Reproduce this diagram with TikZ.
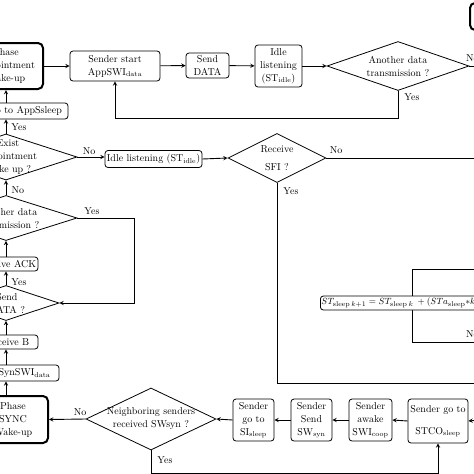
\documentclass[tikz,border=0pt]{standalone}
\usepackage{amsmath}
\usetikzlibrary{shapes.geometric}
\tikzset{
  box/.style={draw,rounded corners=3pt,align=center,inner sep=1pt,line width=0.8pt},
  bigbox/.style={box,line width=2pt,rounded corners=5pt},
  dec/.style={draw,diamond,inner sep=0pt,line width=0.8pt},
  dectext/.style={align=center,inner sep=0pt},
  lbl/.style={inner sep=1pt},
  wire/.style={line width=0.9pt},
  arr/.style={wire,-stealth}
}

\begin{document}
\begin{tikzpicture}[x=1pt,y=-1pt,font=\fontsize{10}{13}\selectfont]
  \useasboundingbox (0,0) rectangle (474,474);
  \clip (0,0) rectangle (474,474);
  % top row
  \node[bigbox,minimum width=30,minimum height=27] (legend) at (485,16.5) {};
  \node[bigbox,minimum width=74,minimum height=46] (phaseA) at (6,66) {Phase\\Appointment\\Wake-up};
  \node[box,minimum width=90,minimum height=30] (startA) at (115,66) {Sender start\\AppSWI$_{\mathrm{data}}$};
  \node[box,minimum width=43,minimum height=25] (sendD) at (207.5,65.5) {Send\\DATA};
  \node[box,minimum width=47,minimum height=42] (idleA) at (278.5,66) {Idle\\listening\\(ST$_{\mathrm{idle}}$)};
  \node[dec,minimum width=142,minimum height=49,
    label={[dectext]center:Another data\\transmission ?}] (anotherA) at (398,66) {};
  \draw[arr] (phaseA.east) -- (startA.west);
  \draw[arr] (startA) -- (sendD);
  \draw[arr] (sendD) -- (idleA);
  \draw[arr] (idleA) -- (anotherA.west);
  \draw[wire] (anotherA.east) -- (480,66);
  \node[lbl,anchor=west] at (465,58) {No};
  \draw[arr] (anotherA.south) -- (398,118) -| (startA.south);
  \node[lbl] at (412,97) {Yes};
  % left column
  \node[box,minimum width=86,minimum height=16] (sleepA) at (25,111) {Go to AppSsleep};
  \node[dec,minimum width=142,minimum height=46,
    label={[dectext,xshift=2pt]center:Exist\\Appointment\\Wake up ?}] (exist) at (6,157) {};
  \node[box,minimum width=97,minimum height=17] (idleB) at (153.5,159) {Idle listening (ST$_{\mathrm{idle}}$)};
  \node[dec,minimum width=98,minimum height=49,
    label={[dectext]center:Receive\\[5pt]SFI ?}] (sfi) at (277,158) {};
  \node[dec,minimum width=142,minimum height=45,
    label={[dectext,xshift=2pt]center:Another data\\transmission ?}] (anotherB) at (6,218) {};
  \node[box,minimum width=62,minimum height=14] (ack) at (7,264) {Receive ACK};
  \node[dec,minimum width=106,minimum height=35,
    label={[dectext,xshift=1pt]center:Send\\DATA ?}] (sendq) at (6,303) {};
  \node[box,minimum width=61,minimum height=14] (recB) at (7.5,342) {Receive B};
  \node[box,minimum width=69,minimum height=16] (synswi) at (24.5,373) {SynSWI$_{\mathrm{data}}$};
  \node[bigbox,minimum width=70,minimum height=47] (phaseS) at (13,419.5) {Phase\\SYNC\\Wake-up};
  \draw[arr] (exist.north) -- (exist.north |- sleepA.south);
  \node[lbl] at (19,127) {Yes};
  \draw[arr] (exist.north |- sleepA.north) -- (exist.north |- phaseA.south);
  \draw[arr] (exist.east) -- (exist.east -| idleB.west);
  \node[lbl] at (89,151) {No};
  \draw[arr] (idleB.east) -- (sfi.west);
  \draw[wire] (sfi.east) -- (480,158);
  \node[lbl] at (336,150) {No};
  \draw[wire] (sfi.south) -- (277,383) -- (480,383);
  \node[lbl] at (291,191) {Yes};
  \draw[arr] (anotherB.north) -- (exist.south);
  \node[lbl] at (18,190) {No};
  \draw[arr] (anotherB.east) -- (134,218) |- (sendq.east);
  \node[lbl] at (92,211) {Yes};
  \draw[arr] (sendq.north |- ack.north) -- (anotherB.south);
  \draw[arr] (sendq.north) -- (sendq.north |- ack.south);
  \node[lbl] at (19,282) {Yes};
  \draw[arr] (sendq.south |- recB.north) -- (sendq.south);
  \draw[arr] (sendq.south |- synswi.north) -- (sendq.south |- recB.south);
  \draw[arr] (sendq.south |- phaseS.north) -- (sendq.south |- synswi.south);
  % sleep update
  \draw[wire] (480,269) -| (412,342) -- (480,342);
  \node[lbl,anchor=west] at (465,334) {No};
  \node[box,fill=white,anchor=west,minimum height=14,font=\fontsize{9.5}{13}\selectfont] (update) at (320,303)
    {$ST_{\mathrm{sleep}\,k+1} = ST_{\mathrm{sleep}\,k} \hspace{2pt} + (STa_{\mathrm{sleep}}{*}k)_{\mathrm{sleep}}$};
  % bottom row
  \node[dec,minimum width=130,minimum height=62,
    label={[dectext]center:Neighboring senders\\received SWsyn ?}] (neigh) at (151,419) {};
  \node[box,minimum width=41,minimum height=42] (goSI) at (253.5,420) {Sender\\go to\\SI$_{\mathrm{sleep}}$};
  \node[box,minimum width=41,minimum height=42] (sendSW) at (311.5,420) {Sender\\Send\\SW$_{\mathrm{syn}}$};
  \node[box,minimum width=43,minimum height=42] (awake) at (370.5,420) {Sender\\awake\\SWI$_{\mathrm{coop}}$};
  \node[box,minimum width=60,minimum height=44] (stco) at (438,421) {Sender go to\\[9pt]STCO$_{\mathrm{sleep}}$};
  \coordinate (inR) at (480,420);
  \draw[arr] (neigh.west) -- (phaseS.east);
  \node[lbl] at (80,412) {No};
  \draw[arr] (goSI.west) -- (neigh.east);
  \draw[arr] (sendSW.west) -- (goSI.east);
  \draw[arr] (awake.west) -- (sendSW.east);
  \draw[arr] (stco.west) -- (awake.east);
  \draw[arr] (inR) -- (stco.east);
  \draw[arr] (neigh.south) -- (151,473) -| (stco.south);
  \node[lbl] at (165,460) {Yes};
\end{tikzpicture}
\end{document}
